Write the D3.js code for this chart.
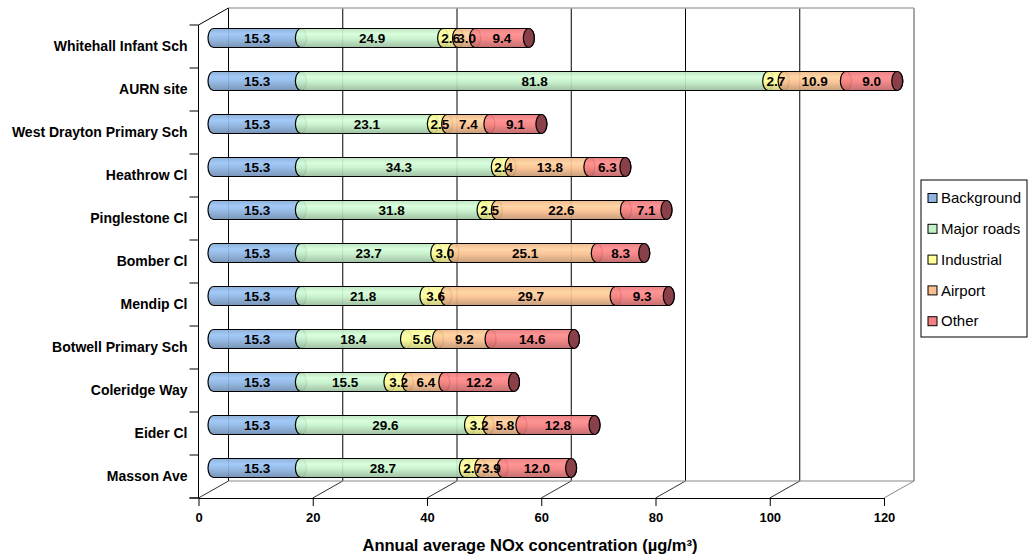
<!DOCTYPE html>
<html>
<head>
<meta charset="utf-8">
<script src="https://cdn.jsdelivr.net/npm/d3@7/dist/d3.min.js"></script>
<style>
body { margin: 0; background: #fff; }
text { font-family: Arial, "Liberation Sans", sans-serif; }
</style>
</head>
<body>
<script>
// data
var sites = ['Whitehall Infant Sch', 'AURN site', 'West Drayton Primary Sch', 'Heathrow Cl',
  'Pinglestone Cl', 'Bomber Cl', 'Mendip Cl', 'Botwell Primary Sch', 'Coleridge Way',
  'Eider Cl', 'Masson Ave'];
var sources = ['Background', 'Major roads', 'Industrial', 'Airport', 'Other'];
var background = [15.3, 15.3, 15.3, 15.3, 15.3, 15.3, 15.3, 15.3, 15.3, 15.3, 15.3];
var majorRoads = [24.9, 81.8, 23.1, 34.3, 31.8, 23.7, 21.8, 18.4, 15.5, 29.6, 28.7];
var industrial = [2.6, 2.7, 2.5, 2.4, 2.5, 3.0, 3.6, 5.6, 3.2, 3.2, 2.7];
var airport = [3.0, 10.9, 7.4, 13.8, 22.6, 25.1, 29.7, 9.2, 6.4, 5.8, 3.9];
var other = [9.4, 9.0, 9.1, 6.3, 7.1, 8.3, 9.3, 14.6, 12.2, 12.8, 12.0];
var xTicks = [0, 20, 40, 60, 80, 100, 120];

var colors = ['#8db4e2', '#c4f0c8', '#ffff99', '#fac090', '#f47f80'];
var capColor = '#8a4048';

var W = 1030, H = 558;
var dx = 30, dy = -17;   // depth of the 3d box
var front = { left: 198.5, right: 884, top: 25, bottom: 498 };

var svg = d3.select('body').append('svg')
  .attr('width', W)
  .attr('height', H);

var x = d3.scaleLinear()
  .domain([0, 120])
  .range([front.left, front.right]);

var y = d3.scaleBand()
  .domain(sites)
  .range([front.top, front.bottom]);

var table = sites.map(function(s, i) {
  var vals = [background[i], majorRoads[i], industrial[i], airport[i], other[i]];
  var acc = 0;
  return {
    site: s,
    segs: vals.map(function(v, k) {
      var seg = { key: k, v: v, x0: acc, x1: acc + v };
      acc += v;
      return seg;
    })
  };
});

// gradients for the cylinders
var defs = svg.append('defs');
colors.forEach(function(c, k) {
  var base = d3.color(c);
  var g = defs.append('linearGradient')
    .attr('id', 'cyl' + k)
    .attr('x1', 0).attr('y1', 0).attr('x2', 0).attr('y2', 1);
  g.append('stop').attr('offset', '0%').attr('stop-color', base.darker(0.15));
  g.append('stop').attr('offset', '30%').attr('stop-color', base.brighter(0.25));
  g.append('stop').attr('offset', '55%').attr('stop-color', base);
  g.append('stop').attr('offset', '100%').attr('stop-color', base.darker(0.7));
});

// back wall
svg.append('rect')
  .attr('x', x(0) + dx)
  .attr('y', front.top + dy)
  .attr('width', x(120) - x(0))
  .attr('height', front.bottom - front.top)
  .attr('fill', '#fff');

// gridlines on the back wall + floor diagonals
xTicks.forEach(function(t) {
  var last = t === 120;
  svg.append('line')
    .attr('x1', x(t) + dx).attr('x2', x(t) + dx)
    .attr('y1', front.top + dy).attr('y2', front.bottom + dy)
    .attr('stroke', last ? '#888' : '#000')
    .attr('stroke-width', last ? 1.5 : 1);
  svg.append('line')
    .attr('x1', x(t)).attr('y1', front.bottom)
    .attr('x2', x(t) + dx).attr('y2', front.bottom + dy)
    .attr('stroke', last ? '#888' : '#333');
});

// top edge and floor back edge
svg.append('line')
  .attr('x1', x(0) + dx).attr('x2', x(120) + dx)
  .attr('y1', front.top + dy).attr('y2', front.top + dy)
  .attr('stroke', '#aaa').attr('stroke-width', 1.5);
svg.append('line')
  .attr('x1', x(0) + dx).attr('x2', x(120) + dx)
  .attr('y1', front.bottom + dy).attr('y2', front.bottom + dy)
  .attr('stroke', '#888');

// left side wall
svg.append('line')
  .attr('x1', x(0)).attr('x2', x(0) + dx)
  .attr('y1', front.top).attr('y2', front.top + dy)
  .attr('stroke', '#000');
svg.append('line')
  .attr('x1', x(0)).attr('x2', x(0))
  .attr('y1', front.top).attr('y2', front.bottom)
  .attr('stroke', '#000');
var bounds = sites.map(function(s) { return y(s); }).concat([front.bottom]);
svg.selectAll('.ctick')
  .data(bounds)
  .enter().append('line')
  .attr('class', 'ctick')
  .attr('x1', x(0) - 9).attr('x2', x(0))
  .attr('y1', function(d) { return d; })
  .attr('y2', function(d) { return d; })
  .attr('stroke', '#000');

// category labels
svg.selectAll('.cat')
  .data(sites)
  .enter().append('text')
  .attr('class', 'cat')
  .attr('x', x(0) - 11)
  .attr('y', function(d) { return y(d) + y.bandwidth() / 2; })
  .attr('dy', '0.35em')
  .attr('text-anchor', 'end')
  .style('font-size', '14px')
  .style('font-weight', 'bold')
  .text(function(d) { return d; });

// x axis
var xAxis = d3.axisBottom(x)
  .tickValues(xTicks)
  .tickSize(8)
  .tickSizeOuter(0);

var gx = svg.append('g')
  .attr('transform', 'translate(0,' + front.bottom + ')')
  .call(xAxis);
gx.select('.domain').attr('stroke', '#000');
gx.selectAll('.tick line').attr('stroke', '#000');
gx.selectAll('.tick text')
  .attr('y', 15)
  .style('font-size', '13px')
  .style('font-weight', 'bold')
  .style('font-family', 'Arial, "Liberation Sans", sans-serif')
  .attr('fill', '#000');
gx.append('line')
  .attr('x1', x(0) - 9).attr('x2', x(0))
  .attr('stroke', '#000');

svg.append('text')
  .attr('x', 530)
  .attr('y', 545)
  .attr('dy', '0.35em')
  .attr('text-anchor', 'middle')
  .style('font-size', '16.5px')
  .style('font-weight', 'bold')
  .text('Annual average NOx concentration (\u00b5g/m\u00b3)');

// cylinders
var r = 9.5, rx = 5.5;
var offX = dx / 2, offY = dy / 2;

function segPath(a, b, cy) {
  var top = cy - r, bot = cy + r;
  return 'M' + a + ',' + top +
    'L' + b + ',' + top +
    'A' + rx + ',' + r + ' 0 0 1 ' + b + ',' + bot +
    'L' + a + ',' + bot +
    'A' + rx + ',' + r + ' 0 0 1 ' + a + ',' + top + 'Z';
}

var rows = svg.selectAll('.row')
  .data(table)
  .enter().append('g')
  .attr('class', 'row');

rows.each(function(d) {
  var g = d3.select(this);
  var cy = y(d.site) + y.bandwidth() / 2 + offY;
  g.selectAll('path.seg')
    .data(d.segs)
    .enter().append('path')
    .attr('class', 'seg')
    .attr('d', function(s) { return segPath(x(s.x0) + offX, x(s.x1) + offX, cy); })
    .attr('fill', function(s) { return 'url(#cyl' + s.key + ')'; })
    .attr('fill-opacity', 0.92)
    .attr('stroke', '#000')
    .attr('stroke-width', 1.2);
  var end = d.segs[d.segs.length - 1];
  g.append('ellipse')
    .attr('cx', x(end.x1) + offX)
    .attr('cy', cy)
    .attr('rx', rx)
    .attr('ry', r)
    .attr('fill', capColor)
    .attr('stroke', '#000')
    .attr('stroke-width', 1.2);
  g.selectAll('text.val')
    .data(d.segs)
    .enter().append('text')
    .attr('class', 'val')
    .attr('x', function(s) { return (x(s.x0) + x(s.x1)) / 2 + offX; })
    .attr('y', cy)
    .attr('dy', '0.36em')
    .attr('text-anchor', 'middle')
    .style('font-size', '13.5px')
    .style('font-weight', 'bold')
    .text(function(s) { return s.v.toFixed(1); });
});

// legend
var lg = svg.append('g').attr('transform', 'translate(921,180)');
lg.append('rect')
  .attr('width', 106).attr('height', 157)
  .attr('fill', '#fff')
  .attr('stroke', '#000');
var items = lg.selectAll('.item')
  .data(sources)
  .enter().append('g')
  .attr('class', 'item')
  .attr('transform', function(d, i) { return 'translate(7,' + (18 + i * 30.8) + ')'; });
items.append('rect')
  .attr('x', 0).attr('y', -4.5)
  .attr('width', 9).attr('height', 9)
  .attr('fill', function(d, i) { return colors[i]; })
  .attr('stroke', '#000');
items.append('text')
  .attr('x', 13)
  .attr('dy', '0.35em')
  .style('font-size', '15px')
  .text(function(d) { return d; });
</script>
</body>
</html>
